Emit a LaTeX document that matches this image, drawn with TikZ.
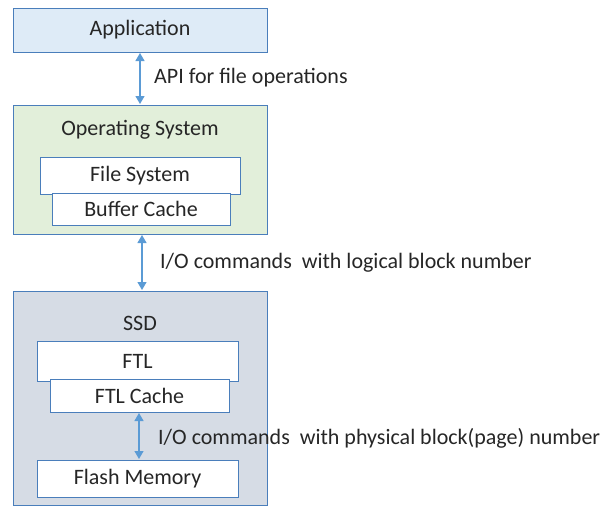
\documentclass[tikz,border=0pt]{standalone}
\usepackage{fontspec}
\setmainfont{Carlito}
\usetikzlibrary{arrows.meta}
\definecolor{bordc}{HTML}{4A7EBB}
\definecolor{arrc}{HTML}{5B9BD5}
\definecolor{appfill}{HTML}{DEEBF7}
\definecolor{osfill}{HTML}{E2EFDA}
\definecolor{ssdfill}{HTML}{D6DCE5}
\definecolor{txtc}{HTML}{262626}
\begin{document}
\begin{tikzpicture}[x=1pt,y=-1pt,
  font=\fontsize{22}{25}\selectfont, text=txtc,
  box/.style={draw=bordc, line width=1pt, inner sep=0pt, minimum width=#1},
  inbox/.style={box=#1, fill=white},
  lbl/.style={anchor=west, inner sep=0pt},
  link/.style={draw=arrc, line width=1.2pt, {Triangle[length=8pt,width=9pt]}-{Triangle[length=8pt,width=9pt]}}]
\useasboundingbox (0,0) rectangle (611,506);
\node[box=254, minimum height=44, fill=appfill] (app) at (140,30) {Application};
\node[box=254, minimum height=129, fill=osfill] (os) at (140,169.5) {};
\node (ostxt) at (140,130) {Operating System};
\node[inbox=200, minimum height=37] (fs) at (140,175.5) {File System};
\node[inbox=178, minimum height=32] (bc) at (141,209) {Buffer Cache};
\node[box=254, minimum height=214, fill=ssdfill] (ssd) at (140,398) {};
\node (ssdtxt) at (140,323) {SSD};
\node[inbox=201, minimum height=40] (ftl) at (137.5,361) {FTL};
\node[inbox=179, minimum height=33] (ftlc) at (139.5,395.5) {FTL Cache};
\node[inbox=201, minimum height=37] (flash) at (137.5,478.5) {Flash Memory};
\coordinate (a1) at (140,53); \coordinate (a2) at (140,104);
\coordinate (b1) at (142,235); \coordinate (b2) at (142,290);
\coordinate (c1) at (139,413); \coordinate (c2) at (139,459);
\draw[link] (a1) -- (a2);
\draw[link] (b1) -- (b2);
\draw[link] (c1) -- (c2);
\node[lbl] (l1) at (154,78) {API for file operations};
\node[lbl] (l2) at (160,263) {I/O commands\ \ with logical block number};
\node[lbl] (l3) at (158,438) {I/O commands\ \ with physical block(page) number};
\end{tikzpicture}
\end{document}
